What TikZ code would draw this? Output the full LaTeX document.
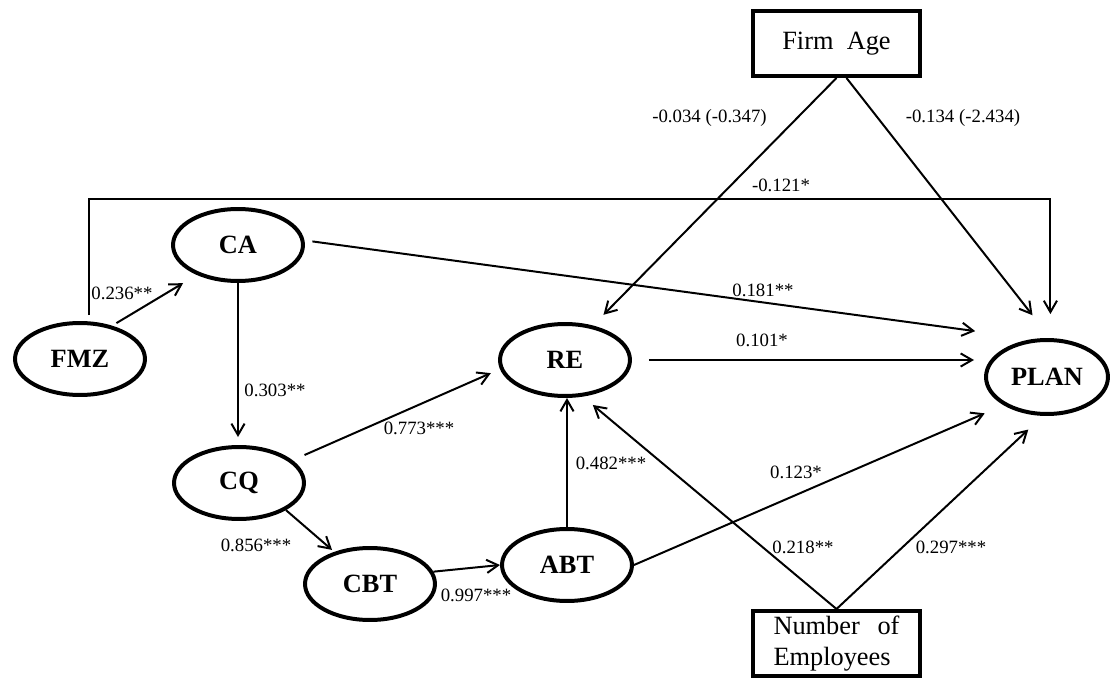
\documentclass[tikz,border=0pt]{standalone}
\usepackage{fontspec}
\setmainfont{Liberation Serif}
\usetikzlibrary{arrows.meta,calc,shapes.geometric}
\begin{document}
\begin{tikzpicture}[x=0.02cm,y=-0.02cm,
  lat/.style={ellipse,draw,line width=2.27pt,minimum width=2.6cm,minimum height=1.44cm,inner sep=0pt,font=\fontsize{15}{18}\selectfont\bfseries},
  ctrl/.style={rectangle,draw,line width=2.27pt,minimum width=3.34cm,minimum height=1.3cm,inner sep=0pt,font=\fontsize{15}{18}\selectfont},
  arr/.style={line width=1.13pt,-{Straight Barb[length=6.5pt,width=7.5pt,line width=1.13pt]}},
  lbl/.style={font=\fontsize{10.7}{12.8}\selectfont,inner sep=0pt}]
\useasboundingbox (0,0) rectangle (1110,679);
% latent variables
\node[lat] (fmz) at (80,359) {FMZ};
\node[lat] (ca) at (238,245) {CA};
\node[lat] (cq) at (239,483) {CQ};
\node[lat] (cbt) at (370,584) {CBT};
\node[lat] (abt) at (567,565) {ABT};
\node[lat] (re) at (565,360) {RE};
\node[lat,minimum width=2.44cm,minimum height=1.48cm] (plan) at (1047,377) {PLAN};
% controls
\node[ctrl] (fa) at (836.5,43.5) {Firm\hspace{0.5em}Age};
\node[ctrl,align=left] (ne) at (836.5,643.5) {\makebox[2.52cm][s]{Number of}\\Employees};
\coordinate (toprail) at (565,199);
% connectors
\draw[arr,shorten <=0.1cm,shorten >=0.32cm] (fmz.46) -- (ca.216);
\draw[arr,shorten >=0.16cm] (ca.south) -- (ca.south |- cq.north);
\draw[arr,shorten <=0.26cm,shorten >=0.2cm] (cq.23) -- (re.188);
\draw[arr,shorten <=0.16cm,shorten >=1.17cm] (ca.4) -- (plan.110);
\draw[arr,shorten <=0.34cm,shorten >=0.2cm] (re.east) -- (re.east -| plan.west);
\draw[arr,shorten >=0.3cm] (fa.south) -- (re.51);
\draw[arr,shorten >=0.58cm] ([xshift=0.2cm]fa.south) -- (plan.85);
\draw[arr,shorten <=0.12cm,shorten >=0.48cm] ([xshift=0.18cm]fmz.north) |- (toprail) -| (plan.85);
\draw[arr,shorten >=0.06cm] (cq.-30) -- (cbt.138);
\draw[arr] (cbt.11) -- (abt.west);
\draw[arr] (abt.north) -- (abt.north |- re.south);
\draw[arr,shorten >=0.41cm] (abt.east) -- (plan.213);
\draw[arr,shorten >=0.26cm] (ne.north) -- (re.-64);
\draw[arr,shorten >=0.4cm] (ne.north) -- (plan.264);
% labels
\node[lbl] (l1) at (122,293) {0.236**};
\node[lbl] (l2) at (275,390) {0.303**};
\node[lbl] (l3) at (419,428) {0.773***};
\node[lbl] (l4) at (256,545) {0.856***};
\node[lbl] (l5) at (476,595) {0.997***};
\node[lbl] (l6) at (611,463) {0.482***};
\node[lbl] (l7) at (796,472) {0.123*};
\node[lbl] (l8) at (803,547) {0.218**};
\node[lbl] (l9) at (951,547) {0.297***};
\node[lbl] (l10) at (763,290) {0.181**};
\node[lbl] (l11) at (762,340) {0.101*};
\node[lbl] (l12) at (781,185) {-0.121*};
\node[lbl] (l13) at (709.5,118) {-0.034 (-0.347)};
\node[lbl] (l14) at (963,118) {-0.134 (-2.434)};
\end{tikzpicture}
\end{document}
